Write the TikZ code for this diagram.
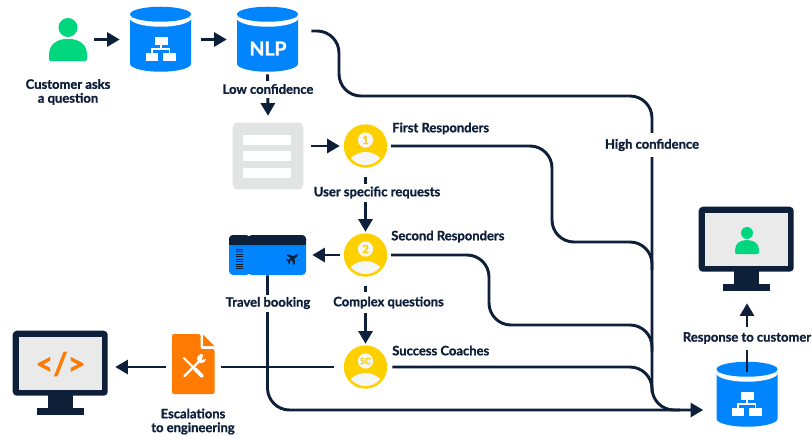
\documentclass[tikz,border=0pt]{standalone}
\usepackage{fontspec}
\setmainfont{Lato}[BoldFeatures={FakeBold=1.2}]
\definecolor{navy}{HTML}{0E1F3A}
\definecolor{blu}{HTML}{0085FF}
\definecolor{grn}{HTML}{00D67D}
\definecolor{yel}{HTML}{FFD000}
\definecolor{org}{HTML}{FF7A00}
\definecolor{gry}{HTML}{E2E4E4}
\definecolor{scr}{HTML}{EAEAEA}
\definecolor{pale}{HTML}{F6F6F6}
\usetikzlibrary{arrows.meta}
\tikzset{
 x=0.75pt,y=-0.75pt,
 conn/.style={draw=navy,line width=2.2pt,rounded corners=16.5pt},
 arr/.style={conn,-{Triangle[length=9.5pt,width=10.5pt]}},
 lab/.style={font=\fontsize{9.75pt}{10.4pt}\selectfont\bfseries,text=navy,inner sep=0pt,align=center},
 gaplab/.style={lab,fill=white,inner xsep=1pt,minimum height=#1*0.75pt},
 box/.style 2 args={inner sep=0pt,minimum width=#1*0.75pt,minimum height=#2*0.75pt},
 pics/cyl/.style={code={
   \fill[blu] (-30.5,11) -- (-30.5,57) arc[x radius=30.5,y radius=8,start angle=180,end angle=0] -- (30.5,11) -- cycle;
   \fill[white] (-31,11) arc[x radius=31,y radius=9,start angle=180,end angle=0] -- cycle;
   \fill[blu] (0,7.5) ellipse[x radius=30.5,y radius=7.5];
 }},
 pics/tree/.style={code={
   \draw[white,line width=0.8pt] (0,-6) -- (0,0) (-9,6) -- (-9,0) -- (8.5,0) -- (8.5,6);
   \fill[white] (-6,-12) rectangle (6.5,-4);
   \fill[white] (-15,4) rectangle (-3,12);
   \fill[white] (2,4) rectangle (15,12);
 }},
 pics/agent/.style={code={
   \fill[yel] (0,0) circle[radius=21.7];
   \begin{scope}
     \clip (0,0) circle[radius=19];
     \fill[pale] (0,25) ellipse[x radius=20,y radius=19];
   \end{scope}
   \fill[pale] (0,-6) circle[radius=7.6];
 }},
 pics/monitor/.style={code={
   \fill[navy] (35,64) rectangle (60,78);
   \fill[navy] (24,77) rectangle (71,84);
   \fill[navy,rounded corners=3pt] (0,0) rectangle (95,65);
   \fill[scr] (6,6) rectangle (89,59);
 }},
 pics/person/.style={code={
   \fill[grn] (0,-17.5*#1) circle[radius=9.5*#1];
   \fill[grn,rounded corners=1pt] (-19*#1,16*#1) -- (-19*#1,11*#1) .. controls (-19*#1,-2*#1) and (-9*#1,-6*#1) .. (0,-6*#1) .. controls (9*#1,-6*#1) and (19*#1,-2*#1) .. (19*#1,11*#1) -- (19*#1,16*#1) -- cycle;
 }},
}
\begin{document}
\begin{tikzpicture}
\useasboundingbox (0,0) rectangle (812,437);
% named places
\node[box={38}{54}] (cust) at (68,45) {};
\node[box={61}{65}] (cylA) at (160.5,39.5) {};
\node[box={61}{65}] (cylB) at (267.5,39.5) {};
\node[box={61}{65}] (cylC) at (747,394.5) {};
\node[box={70}{66}] (form) at (268,156) {};
\node[box={44}{44}] (first) at (365.5,146) {};
\node[box={44}{44}] (second) at (365.5,255) {};
\node[box={44}{44}] (coach) at (365.5,367) {};
\node[box={77}{40}] (ticket) at (267.5,255) {};
\node[box={43}{60}] (doc) at (193.5,364) {};
\node[box={95}{84}] (monL) at (60.5,373) {};
\node[box={95}{84}] (monR) at (746.5,249) {};
% icons
\pic at (cust.center) {person=1};
\pic at (cylA.north) {cyl};
\pic at (161,49) {tree};
\pic at (cylB.north) {cyl};
\node[font=\fontsize{14.5pt}{15pt}\selectfont\bfseries,text=white,inner sep=0pt] (nlp) at (268,48.5) {NLP};
\pic at (cylC.north) {cyl};
\pic at (747,404) {tree};
\fill[gry,rounded corners=3pt] (form.north west) rectangle (form.south east);
\fill[white] (243,135) rectangle (291,144.5);
\fill[white] (243,151) rectangle (291,161);
\fill[white] (243,168) rectangle (291,177.5);
\pic at (first.center) {agent};
\pic at (second.center) {agent};
\pic at (coach.center) {agent};
\node[font=\fontsize{8.5pt}{9pt}\selectfont\bfseries,text=yel,inner sep=0pt] (n1) at (365.5,140) {1};
\node[font=\fontsize{8.5pt}{9pt}\selectfont\bfseries,text=yel,inner sep=0pt] (n2) at (365.5,249) {2};
\node[font=\fontsize{6.5pt}{7pt}\selectfont\bfseries,text=yel,inner sep=0pt] (n3) at (365.5,361) {SC};
% ticket
\fill[blu,rounded corners=3pt] (229,235) rectangle (306,275);
\fill[navy,rounded corners=3pt] (229,235) rectangle (306,245);
\fill[navy] (229,240) rectangle (306,245);
\fill[white] (249,233.5) circle[radius=2.5];
\fill[white] (249,276.5) circle[radius=2.5];
\foreach \yy in {248.5,251,253.5,256,258.5,261,263.5,266,268}{\fill[navy] (236,\yy) rectangle (243,\yy+1.3);}
\begin{scope}[shift={(293,258)},rotate=35,scale=0.65]
 \fill[navy] (10,0) -- (6,-1.8) -- (2,-1.8) -- (-3,-9) -- (-5.5,-9) -- (-3,-1.8) -- (-7,-1.8) -- (-9,-4.5) -- (-10.5,-4.5) -- (-9.5,0)
  -- (-10.5,4.5) -- (-9,4.5) -- (-7,1.8) -- (-3,1.8) -- (-5.5,9) -- (-3,9) -- (2,1.8) -- (6,1.8) -- cycle;
\end{scope}
% document
\fill[org,rounded corners=1.5pt] (172,334) -- (200.5,334) -- (200.5,349) -- (214.5,349) -- (214.5,394) -- (172,394) -- cycle;
\fill[org] (203,334.5) -- (214.5,346) -- (203,346) -- cycle;
\draw[white,line width=1.6pt,line cap=round] (184,358) -- (202,376);
\draw[white,line width=2.8pt,line cap=round] (195,369) -- (202,376);
\draw[white,line width=1.8pt,line cap=round] (184.5,376) -- (200,360.5);
\fill[white] (201.5,358.5) circle[radius=4.6];
\fill[org] (203,354) -- (207.5,358) -- (202,360) -- cycle;
% monitors
\pic at (monL.north west) {monitor};
\pic at (monR.north west) {monitor};
\node[font=\fontsize{23pt}{24pt}\selectfont\bfseries,text=org,inner sep=0pt] (code) at (60.5,364) {</>};
\pic at (747,244) {person=0.63};
% connectors
\draw[arr,rounded corners=0pt] ([xshift=5.25pt]cust.east |- cylA) -- ([xshift=-7.5pt]cylA.west);
\draw[arr,rounded corners=0pt] ([xshift=7.5pt]cylA.east |- cylB) -- ([xshift=-7.5pt]cylB.west);
\draw[arr,rounded corners=0pt] ([yshift=-1.5pt]cylB.south) -- ([yshift=5.25pt]form.north);
\draw[conn] ([xshift=9.75pt,yshift=6.4pt]cylB.east) -- (339,31) -- (339,96) -- (652,96) -- (652,410) -- (680,410);
\draw[conn] ([xshift=2.6pt]first.east) -- (552,146) -- (552,242) -- (652,242) -- (652,270);
\draw[conn] ([xshift=2.6pt]second.east) -- (489,255) -- (489,325) -- (652,325) -- (652,352);
\draw[conn] ([xshift=3.4pt]coach.east) -- (652,367) -- (652,392);
\draw[arr] (ticket.south) -- (267.5,410) -- ([xshift=-9.75pt]cylC.west |- 0,410);
\draw[arr,rounded corners=0pt] ([xshift=6pt]form.east |- first) -- ([xshift=-2.6pt]first.west);
\draw[arr,rounded corners=0pt] ([yshift=-6.75pt]first.south) -- ([yshift=0.75pt]second.north);
\draw[arr,rounded corners=0pt] ([xshift=-2.6pt]second.west) -- ([xshift=4.5pt]ticket.east);
\draw[arr,rounded corners=0pt] ([yshift=-6.75pt]second.south) -- ([yshift=0.75pt]coach.north);
\draw[conn] ([xshift=-7pt]coach.west) -- ([xshift=4pt]doc.east |- coach);
\draw[arr,rounded corners=0pt] ([xshift=-4pt]doc.west |- coach) -- ([xshift=5.25pt]monL.east |- coach);
\draw[arr,rounded corners=0pt] ([yshift=-7.5pt]cylC.north) -- ([yshift=-9pt]monR.south -| cylC);
% labels
\node[lab] (t1) at (68,92) {Customer asks\\a question};
\node[gaplab=17] (t2) at (268,89) {Low confidence};
\node[lab,anchor=west] (t3) at (392,128.5) {First Responders};
\node[gaplab=18] (t4) at (377,192.5) {User specific requests};
\node[lab,anchor=west] (t5) at (391,236.5) {Second Responders};
\node[gaplab=17] (t6) at (268,303) {Travel booking};
\node[gaplab=21] (t7) at (388.5,302.5) {Complex questions};
\node[lab,anchor=west] (t8) at (392,350.5) {Success Coaches};
\node[gaplab=24] (t9) at (652,145) {High confidence};
\node[gaplab=23] (t10) at (747,338) {Response to customer};
\node[lab] (t11) at (193,421.5) {Escalations\\to engineering};
\end{tikzpicture}
\end{document}
